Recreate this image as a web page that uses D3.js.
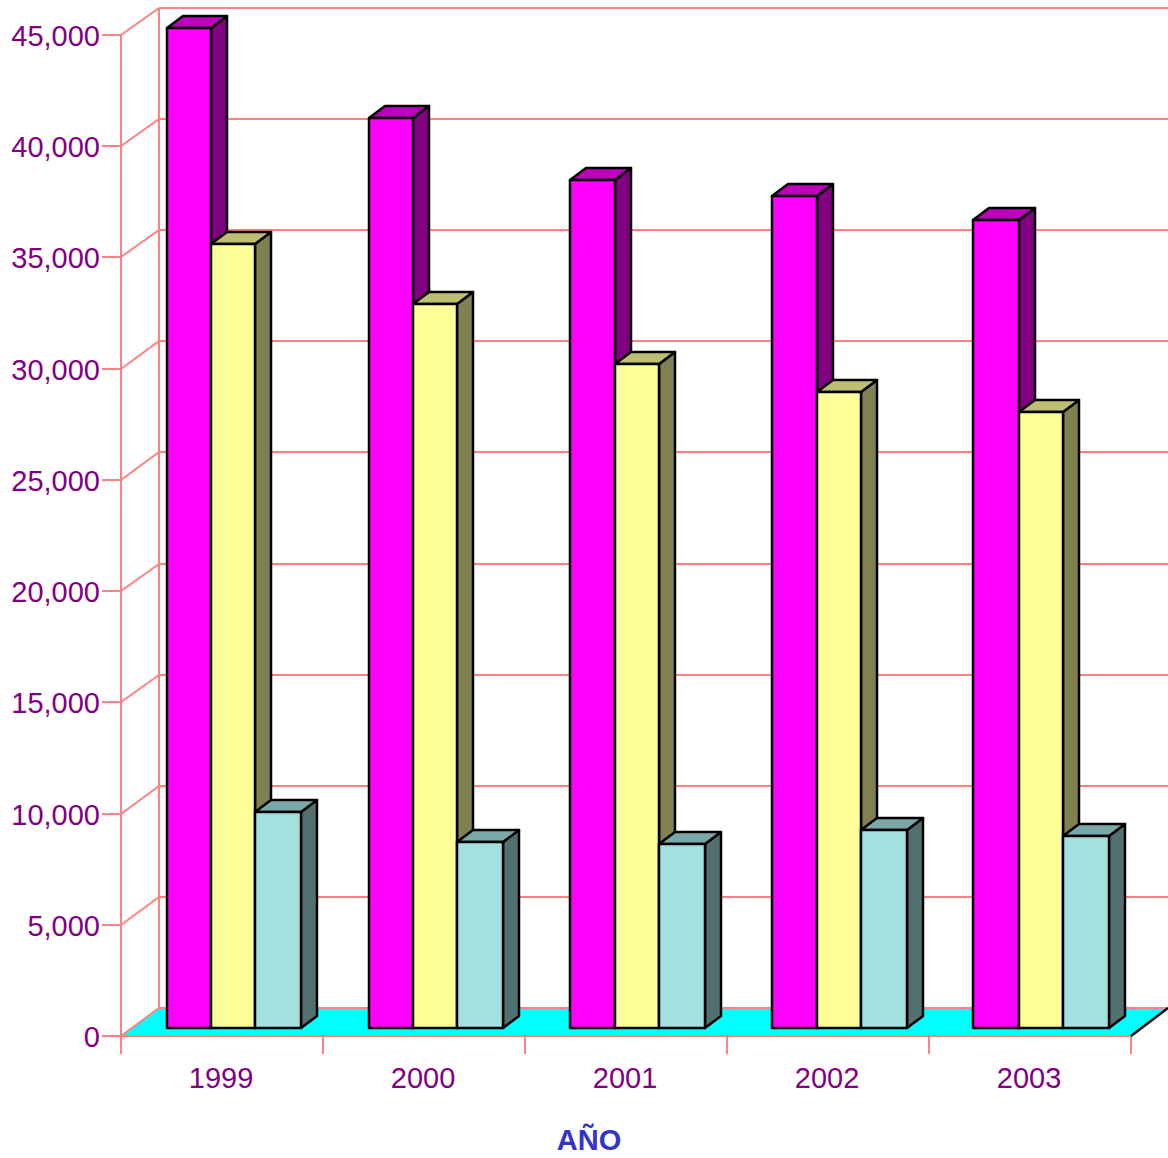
<!DOCTYPE html>
<html><head><meta charset="utf-8">
<script src="https://cdn.jsdelivr.net/npm/d3@7/dist/d3.min.js"></script>
<style>html,body{margin:0;padding:0;background:#fff}svg{display:block}</style>
</head><body><svg id="c" width="1168" height="1158"></svg>
<script>
const years = ["1999","2000","2001","2002","2003"];
const seriesA = [44955,40910,38120,37400,36320];
const seriesB = [35245,32550,29850,28590,27690];
const seriesC = [9710,8360,8270,8900,8630];
const yTicks = [0,5000,10000,15000,20000,25000,30000,35000,40000,45000];
const axisTitle = "AÑO";
const series = [seriesA,seriesB,seriesC];
const palette = [
 {front:"#FF00FF",side:"#800080",top:"#BF00BF"},
 {front:"#FFFF99",side:"#808050",top:"#BFBF73"},
 {front:"#A3E0E0",side:"#527070",top:"#7AA8A8"}];
const pink="#FF8080", purple="#800080";
const wallDx=38, wallDy=28, barLift=8, barDx=16, barDy=12;
const L=121,R=1131,T=35,B=1036,W=1168;

const svg=d3.select("#c");
const y=d3.scaleLinear().domain([0,45000]).rangeRound([B,T]);
const yBack=d3.scaleLinear().domain([0,45000]).rangeRound([B-wallDy,8]);
const xBand=d3.scaleBand().domain(years).range([L,R]);
const firstEdge=d3.scalePoint().domain(years).range([167,973]);
const innerEdges=[46,90,134,180];

// floor
svg.append("polygon").attr("fill","#00FFFF")
 .attr("points",[[L,B],[L+wallDx,B-wallDy],[W,B-wallDy],[R,B]].join(" "));

const g=svg.append("g").attr("stroke",pink).attr("stroke-width",2).attr("fill","none");
// back wall grid and side wall diagonals
yTicks.forEach(t=>{
 const yy=yBack(t);
 g.append("line").attr("x1",L+wallDx).attr("x2",W).attr("y1",yy).attr("y2",yy);
 g.append("line").attr("x1",L).attr("x2",L+wallDx).attr("y1",y(t)).attr("y2",yy);
});
g.append("line").attr("x1",L+wallDx).attr("x2",L+wallDx).attr("y1",yBack(45000)).attr("y2",yBack(0));

// y axis
const ya=svg.append("g").attr("transform",`translate(${L},0)`)
 .call(d3.axisLeft(y).tickValues(yTicks).tickFormat(d3.format(",")).tickSize(19).tickPadding(2).offset(0));
ya.select(".domain").attr("stroke",pink).attr("stroke-width",2);
ya.selectAll(".tick line").attr("stroke",pink).attr("stroke-width",2);
ya.selectAll("text").attr("fill",purple).attr("dy","0.37em").style("font-family","'Liberation Sans'").style("font-size","29px");

// x axis
const xa=svg.append("g").attr("transform",`translate(-1,${B})`)
 .call(d3.axisBottom(xBand).tickSize(0).tickPadding(31).offset(0));
xa.select(".domain").remove();
xa.selectAll("text").attr("fill",purple).style("font-family","'Liberation Sans'").style("font-size","29px");
const tickX=years.map(d=>xBand(d)).concat([R]);
g.append("line").attr("x1",L).attr("x2",R).attr("y1",B).attr("y2",B);
g.append("line").attr("x1",L).attr("x2",L).attr("y1",T).attr("y2",B+18);
tickX.slice(1).forEach(x=>g.append("line").attr("x1",x).attr("x2",x).attr("y1",B).attr("y2",B+18));
// front-right floor edge
svg.append("line").attr("x1",R).attr("y1",B).attr("x2",W).attr("y2",B-wallDy)
 .attr("stroke","#000").attr("stroke-width",2.5);

// bars
const bars=svg.append("g").attr("stroke","#000").attr("stroke-width",2.5).attr("stroke-linejoin","round");
const base=B-barLift;
years.forEach((yr,i)=>{
 series.forEach((s,k)=>{
  const x0=k===0?Math.ceil(firstEdge(yr)):xBand(yr)+innerEdges[k];
  const x1=xBand(yr)+innerEdges[k+1];
  const top=y(s[i])-barLift, c=palette[k];
  bars.append("polygon").attr("fill",c.side)
   .attr("points",[[x1,top],[x1+barDx,top-barDy],[x1+barDx,base-barDy],[x1,base]].join(" "));
  bars.append("polygon").attr("fill",c.top)
   .attr("points",[[x0,top],[x0+barDx,top-barDy],[x1+barDx,top-barDy],[x1,top]].join(" "));
  bars.append("rect").attr("fill",c.front).attr("x",x0).attr("y",top).attr("width",x1-x0).attr("height",base-top);
 });
});

svg.append("text").text(axisTitle).attr("x",589).attr("y",1150).attr("text-anchor","middle")
 .attr("fill","#3333CC").style("font-family","'Liberation Sans'").style("font-weight","bold").style("font-size","29px");
</script></body></html>
